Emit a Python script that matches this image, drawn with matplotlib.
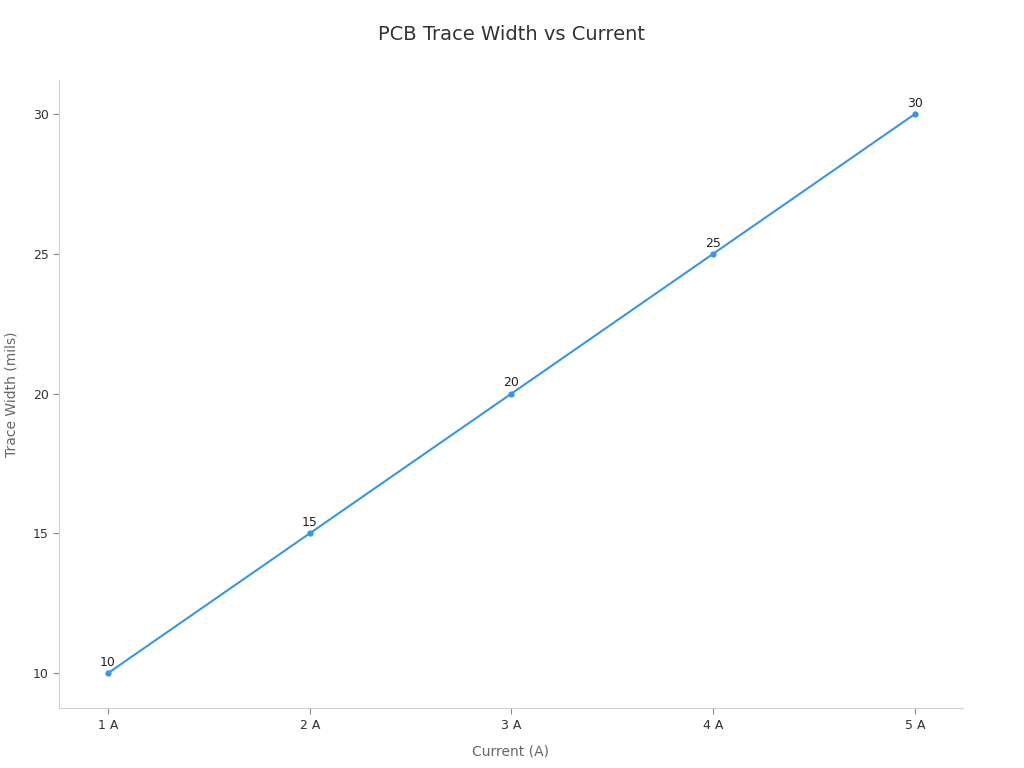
import matplotlib
matplotlib.use("Agg")
import matplotlib.pyplot as plt

current = [1, 2, 3, 4, 5]
current_labels = ["1 A", "2 A", "3 A", "4 A", "5 A"]
trace_width = [10, 15, 20, 25, 30]

plt.rcParams['font.family'] = ['DejaVu Sans']

fig = plt.figure(figsize=(10.24, 7.68), dpi=100)
ax = fig.add_axes([0.0576, 0.078, 0.8828, 0.818])

line_color = '#3a96e0'
ax.plot(current, trace_width, color=line_color, linewidth=1.5,
        marker='o', markersize=3.5)

# value labels above each point
for x, y in zip(current, trace_width):
    ax.annotate(str(y), (x, y), xytext=(0, 3), textcoords='offset points',
                ha='center', va='bottom', fontsize=9, color='#222222')

ax.set_xlim(0.757, 5.238)
ax.set_ylim(8.75, 31.22)
ax.set_xticks(current)
ax.set_xticklabels(current_labels)
ax.set_yticks([10, 15, 20, 25, 30])

for side in ['top', 'right']:
    ax.spines[side].set_visible(False)
for side in ['left', 'bottom']:
    ax.spines[side].set_color('#d0d0d0')
ax.tick_params(axis='both', colors='#888888', labelcolor='#333333',
               labelsize=9, length=4)

ax.set_xlabel('Current (A)', fontsize=10, color='#666666', labelpad=9)
ax.set_ylabel('Trace Width (mils)', fontsize=10, color='#666666', labelpad=10)
fig.suptitle('PCB Trace Width vs Current', fontsize=14, color='#333333', y=0.968)

fig.savefig('out.png', dpi=100)
